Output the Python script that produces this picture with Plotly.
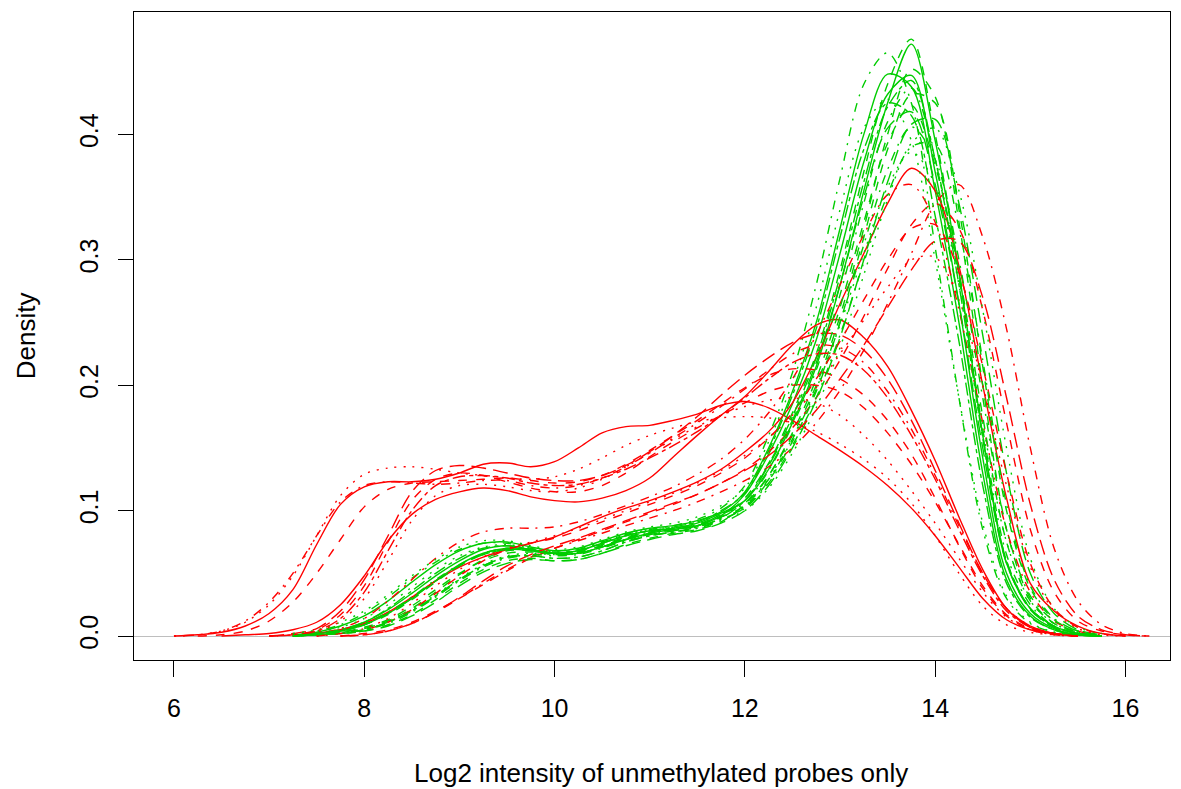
import numpy as np
import plotly.graph_objects as go

# ---------------- data (density values read on a 0.25 grid) ----------------
STEP = 0.25

x_ticks = [6, 8, 10, 12, 14, 16]
y_ticks = [0.0, 0.1, 0.2, 0.3, 0.4]
y_tick_labels = ["0.0", "0.1", "0.2", "0.3", "0.4"]

x_title = "Log2 intensity of unmethylated probes only"
y_title = "Density"

# green samples (start x = 7.25)
g01 = [0, .002, .005, .011, .021, .034, .048, .060, .069, .072, .069, .066, .068, .074, .080, .084, .086, .090, .098,
       .108, .133, .170, .215, .280, .355, .425, .472, .395, .290, .160, .058, .022, .008, .002, 0]
g02 = [.001, .003, .008, .016, .028, .043, .057, .068, .074, .075, .071, .068, .070, .076, .082, .086, .088, .092, .099,
       .115, .150, .195, .250, .325, .400, .448, .438, .355, .250, .130, .045, .016, .005, .001, 0]
g03 = [0, .002, .004, .009, .018, .030, .044, .057, .066, .070, .069, .066, .066, .071, .077, .082, .085, .088, .096,
       .113, .145, .185, .236, .305, .378, .432, .447, .370, .265, .142, .050, .018, .006, .001, 0]
g04 = [.001, .004, .009, .018, .031, .046, .059, .069, .074, .074, .070, .067, .069, .075, .081, .085, .088, .093, .102,
       .120, .160, .210, .280, .365, .440, .465, .425, .310, .190, .085, .030, .010, .003, .001, 0]
g05 = [0, .001, .003, .006, .012, .022, .035, .049, .061, .068, .068, .066, .067, .072, .078, .082, .085, .088, .095,
       .110, .138, .178, .225, .292, .370, .440, .476, .400, .290, .160, .060, .022, .008, .002, 0]
g06 = [0, .001, .002, .004, .009, .017, .029, .042, .053, .060, .062, .060, .061, .066, .073, .078, .082, .085, .091,
       .105, .128, .160, .200, .255, .325, .400, .452, .430, .330, .200, .085, .030, .010, .003, 0]
g07 = [0, .002, .004, .010, .019, .031, .045, .057, .065, .069, .068, .065, .066, .071, .078, .083, .086, .089, .097,
       .106, .132, .168, .212, .272, .345, .410, .437, .380, .285, .165, .065, .025, .008, .002, 0]
g08 = [0, .001, .003, .007, .013, .024, .037, .050, .060, .066, .067, .066, .068, .073, .079, .083, .086, .089, .095,
       .104, .128, .162, .205, .262, .330, .393, .423, .375, .290, .175, .075, .028, .010, .003, 0]
g09 = [0, .001, .002, .005, .010, .019, .031, .044, .055, .062, .064, .062, .063, .068, .075, .080, .083, .086, .092,
       .103, .125, .157, .197, .250, .312, .372, .406, .380, .300, .190, .085, .032, .012, .003, 0]
g10 = [.001, .003, .007, .014, .025, .039, .053, .064, .071, .073, .070, .067, .069, .075, .081, .085, .087, .091, .098,
       .104, .126, .158, .198, .248, .305, .358, .386, .360, .280, .170, .075, .028, .010, .003, 0]
g11 = [.002, .005, .011, .020, .033, .048, .061, .071, .076, .076, .072, .069, .071, .077, .083, .087, .090, .095, .104,
       .118, .155, .202, .262, .340, .405, .428, .395, .300, .190, .090, .032, .011, .003, .001, 0]
g12 = [0, .001, .002, .004, .008, .016, .027, .040, .051, .058, .061, .060, .061, .066, .072, .077, .081, .084, .090,
       .100, .120, .150, .188, .238, .300, .362, .408, .412, .345, .240, .130, .050, .018, .005, .001]
g13 = [0, .001, .003, .006, .012, .021, .033, .046, .057, .064, .066, .065, .066, .071, .077, .081, .084, .087, .093,
       .100, .118, .146, .182, .230, .288, .348, .393, .405, .355, .260, .150, .062, .022, .007, .002]
g14 = [0, .002, .004, .009, .017, .029, .043, .056, .066, .070, .069, .066, .067, .072, .078, .082, .085, .088, .095,
       .102, .124, .155, .195, .250, .318, .388, .432, .425, .340, .215, .100, .038, .013, .004, 0]
g15 = [0, .002, .005, .011, .022, .036, .050, .062, .070, .072, .069, .066, .068, .074, .080, .084, .087, .091, .100,
       .114, .148, .192, .245, .318, .388, .425, .415, .335, .235, .120, .042, .015, .005, .001, 0]
g16 = [0, .001, .002, .005, .011, .020, .032, .045, .056, .063, .065, .064, .065, .070, .076, .080, .083, .086, .093,
       .102, .122, .152, .190, .240, .298, .352, .390, .392, .325, .220, .105, .040, .014, .004, 0]
g17 = [0, .002, .004, .009, .018, .030, .044, .056, .065, .069, .068, .065, .066, .071, .077, .081, .084, .088, .097,
       .108, .136, .172, .218, .280, .350, .405, .418, .360, .265, .150, .058, .021, .007, .002, 0]
g18 = [0, .001, .003, .005, .011, .020, .032, .045, .056, .063, .064, .062, .063, .068, .075, .080, .083, .087, .094,
       .108, .137, .175, .222, .287, .362, .422, .443, .380, .280, .158, .060, .022, .007, .002, 0]

# red samples
ra1 = [0, .001, .003, .008, .018, .037, .073, .105, .119, .123, .123, .125, .130, .137, .138, .135, .139, .150, .162, .167,
       .168, .172, .177, .184, .187, .182, .172, .160, .148, .135, .120, .102, .080, .055, .030, .013, .005, .002, .001, 0]
ra2 = [0, .001, .004, .011, .025, .048, .080, .112, .129, .134, .135, .133, .130, .128, .126, .125, .127, .133, .142, .152,
       .160, .166, .171, .174, .175, .174, .170, .163, .153, .141, .126, .106, .080, .050, .024, .009, .003, .001, 0]
ra3 = [0, .001, .004, .012, .027, .050, .080, .107, .120, .123, .122, .121, .122, .124, .124, .120, .118, .120, .126, .135,
       .146, .158, .170, .183, .197, .212, .225, .232, .230, .218, .195, .165, .128, .088, .050, .022, .008, .002, 0]
ra4 = [0, .001, .004, .012, .027, .050, .077, .103, .117, .122, .123, .124, .125, .126, .124, .122, .123, .128, .137,
       .148, .160, .172, .185, .198, .208, .213, .212, .205, .192, .172, .145, .110, .072, .038, .016, .005, .001, 0]
rb1 = [0, .001, .002, .005, .011, .025, .048, .076, .097, .109, .115, .118, .116, .111, .108, .107, .110, .116,
       .126, .143, .160, .176, .191, .211, .232, .248, .252, .238, .215, .180, .140, .095, .053, .022, .007, .002, 0]
rb2 = [0, .002, .006, .020, .045, .080, .115, .132, .136, .134, .130, .126, .124, .124, .128, .136,
       .147, .160, .175, .192, .208, .222, .234, .241, .240, .228, .205, .172, .132, .090, .050, .022, .008, .002, 0]
rb3 = [0, .001, .005, .017, .040, .075, .108, .125, .130, .128, .123, .118, .115, .115, .120, .130,
       .143, .155, .166, .176, .186, .195, .200, .200, .195, .182, .162, .137, .107, .073, .040, .017, .006, .002, 0]
rb4 = [0, .001, .004, .014, .035, .068, .100, .120, .127, .128, .126, .122, .120, .121, .126, .133,
       .142, .152, .163, .176, .190, .205, .218, .225, .224, .212, .190, .160, .125, .085, .048, .020, .007, .002, 0]
rb5 = [0, .003, .012, .030, .060, .092, .112, .120, .121, .119, .116, .115, .118, .125, .135,
       .146, .157, .167, .176, .183, .188, .190, .186, .176, .160, .140, .116, .090, .062, .035, .015, .005, .001, 0]
rc1 = [0, .002, .005, .010, .019, .031, .044, .055, .063, .069, .074, .079, .087, .095, .102,
       .108, .115, .123, .133, .147, .163, .186, .222, .265, .305, .345, .373, .355, .295, .200, .110, .042, .020, .008, .002, 0]
rc2 = [0, .002, .006, .014, .028, .045, .062, .075, .083, .086, .086, .087, .091, .097, .104,
       .111, .119, .129, .141, .157, .178, .205, .240, .280, .320, .352, .360, .330, .260, .170, .085, .035, .012, .004, 0]
rc3 = [0, .002, .005, .011, .020, .030, .041, .052, .062, .070, .077, .084, .091,
       .098, .105, .113, .122, .133, .147, .166, .190, .220, .255, .293, .328, .345, .325, .260, .170, .085, .035, .012, .004, .001, 0]
rc4 = [0, .001, .004, .010, .019, .030, .042, .053, .063, .070, .076, .082, .088,
       .094, .100, .107, .115, .124, .135, .150, .170, .196, .228, .265, .305, .345, .360, .318, .245, .150, .070, .028, .009, .002, 0]
rc5 = [0, .002, .005, .011, .021, .034, .048, .060, .069, .074, .078, .084, .091, .098,
       .105, .112, .120, .130, .142, .158, .178, .205, .235, .268, .300, .325, .328, .290, .215, .130, .058, .022, .007, .002, 0]
rc6 = [0, .002, .006, .014, .026, .040, .053, .063, .070, .075, .080, .086, .093, .100,
       .107, .114, .122, .132, .144, .158, .176, .198, .225, .252, .278, .300, .302, .268, .200, .120, .055, .020, .006, .001, 0]
rc7 = [0, .001, .004, .010, .019, .031, .044, .056, .065, .072, .078, .085, .092,
       .099, .106, .113, .122, .132, .144, .160, .180, .205, .232, .262, .292, .315, .315, .270, .190, .105, .045, .016, .005, .001, 0]

# (values, first x, colour group, line type) in drawing order
curves = [
    (g01, 7.25, "g", "solid"), (ra1, 6.00, "r", "solid"), (g02, 7.25, "g", "solid"),
    (rb1, 6.50, "r", "solid"), (g03, 7.25, "g", "solid"), (rc1, 7.25, "r", "solid"),
    (g04, 7.25, "g", "dotdash"), (ra2, 6.00, "r", "dotted"), (g05, 7.25, "g", "dashed"),
    (rb2, 7.00, "r", "longdash"), (g06, 7.25, "g", "dashed"), (rc2, 7.25, "r", "dotdash"),
    (g07, 7.25, "g", "dotdash"), (ra3, 6.00, "r", "dotdash"), (g08, 7.25, "g", "dashed"),
    (rb3, 7.00, "r", "dashed"), (g09, 7.25, "g", "dotdash"), (rc3, 7.75, "r", "dashed"),
    (g10, 7.25, "g", "dotted"), (ra4, 6.25, "r", "dashed"), (g11, 7.25, "g", "dotted"),
    (rb4, 7.00, "r", "twodash"), (g12, 7.25, "g", "longdash"), (rc4, 7.75, "r", "dotdash"),
    (g13, 7.25, "g", "dotted"), (rb5, 7.25, "r", "dotted"), (g14, 7.25, "g", "dashed"),
    (rc5, 7.50, "r", "dashed"), (g15, 7.25, "g", "twodash"), (rc6, 7.50, "r", "dotted"),
    (g16, 7.25, "g", "dotdash"), (rc7, 7.75, "r", "longdash"), (g17, 7.25, "g", "longdash"),
    (g18, 7.25, "g", "twodash"),
]

COLORS = {"r": "#FF0000", "g": "#00CD00"}
DASHES = {
    "solid": "solid",
    "dashed": "9px,9px",
    "dotted": "2px,7px",
    "dotdash": "2px,7px,9px,7px",
    "longdash": "15px,7px",
    "twodash": "4px,4px,13px,4px",
}

fig = go.Figure()
for vals, x0, grp, lty in curves:
    xs = x0 + STEP * np.arange(len(vals))
    fig.add_trace(go.Scatter(
        x=xs, y=vals, mode="lines",
        line=dict(color=COLORS[grp], width=1.4, dash=DASHES[lty], shape="spline", smoothing=0.9),
        showlegend=False, hoverinfo="skip",
    ))

FONT = "Liberation Sans, Arial, Helvetica, sans-serif"

# the page body adds an 8px margin, so the figure is sized to fit the rest of the window
fig.update_layout(
    width=1173, height=781, autosize=False,
    margin=dict(l=125.5, r=11, t=4, b=129, pad=0),
    paper_bgcolor="white", plot_bgcolor="white",
    font=dict(family=FONT, size=25, color="black"),
    xaxis=dict(
        range=[5.58, 16.468], tickmode="array", tickvals=x_ticks,
        ticks="outside", ticklen=16, tickwidth=1, tickcolor="black",
        showline=True, linecolor="black", linewidth=1, mirror=True,
        showgrid=False, zeroline=False, ticklabelstandoff=10,
        tickfont=dict(family=FONT, size=25, color="black"),
    ),
    yaxis=dict(
        range=[-0.0191, 0.4976], tickmode="array", tickvals=y_ticks, ticktext=y_tick_labels,
        tickangle=-90, ticklabelstandoff=10,
        ticks="outside", ticklen=15, tickwidth=1, tickcolor="black",
        showline=True, linecolor="black", linewidth=1, mirror=True,
        showgrid=False, zeroline=True, zerolinecolor="#BEBEBE", zerolinewidth=1,
        tickfont=dict(family=FONT, size=25, color="black"),
    ),
    annotations=[
        dict(text=x_title, xref="paper", yref="paper", x=0.509, y=-0.1744,
             xanchor="center", yanchor="middle", showarrow=False,
             font=dict(family=FONT, size=26, color="black")),
        dict(text=y_title, xref="paper", yref="paper", x=-0.104, y=0.5,
             xanchor="center", yanchor="middle", showarrow=False, textangle=-90,
             font=dict(family=FONT, size=26, color="black")),
    ],
)

fig.write_html("out.html")
